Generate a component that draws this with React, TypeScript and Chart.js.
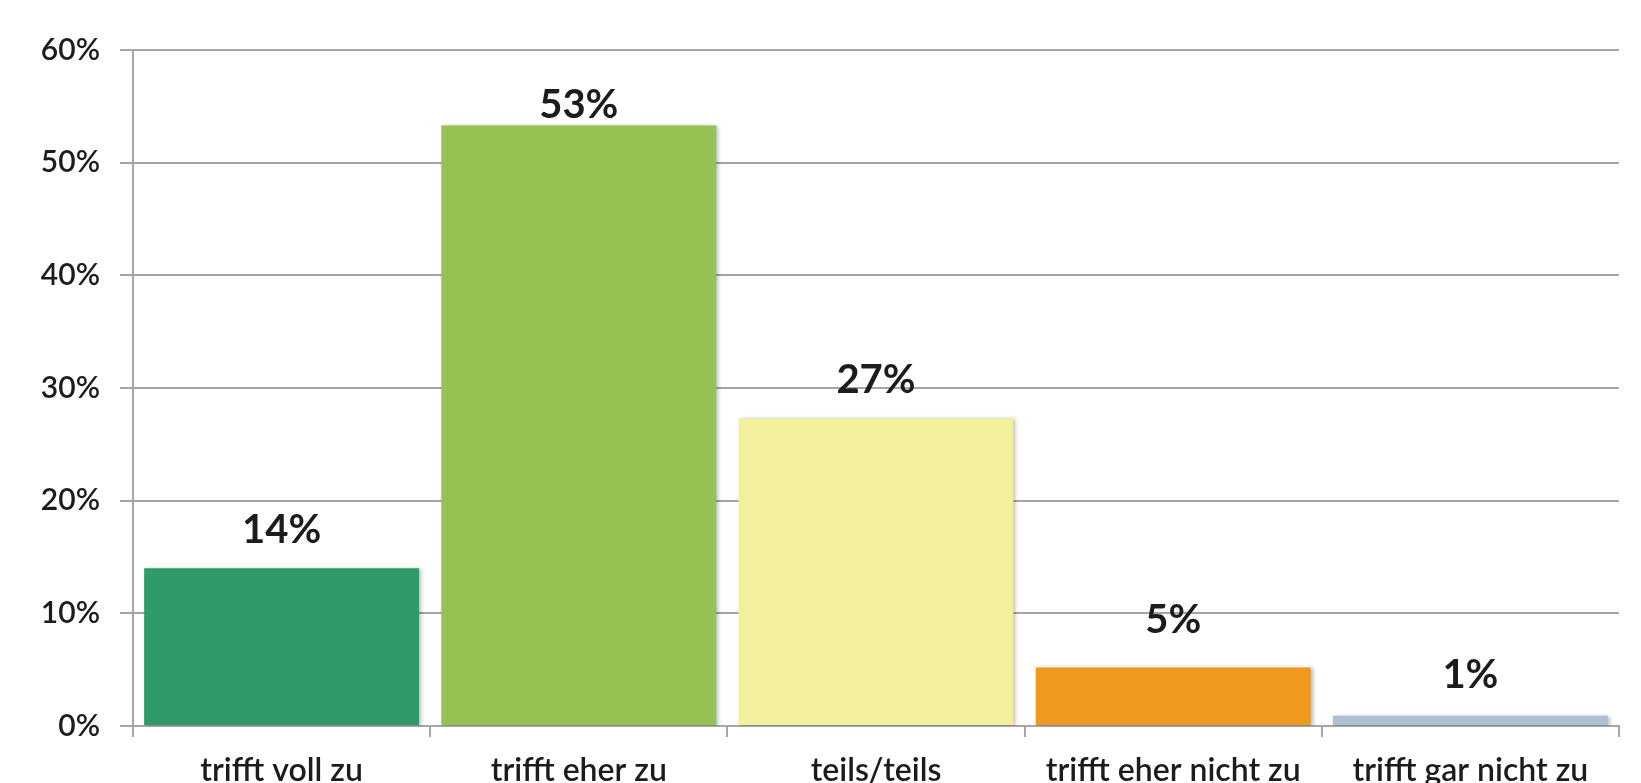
import React, { useEffect, useRef } from "react";
import { Chart, registerables } from "chart.js";

Chart.register(...registerables);

const categories = [
  "trifft voll zu",
  "trifft eher zu",
  "teils/teils",
  "trifft eher nicht zu",
  "trifft gar nicht zu",
];
const values = [14, 53.3, 27.3, 5.2, 0.9];
const valueLabels = ["14%", "53%", "27%", "5%", "1%"];
const barColors = ["#2E9B68", "#96C153", "#F4EF9C", "#F0991F", "#AEBFD3"];
const yTicks = [0, 10, 20, 30, 40, 50, 60];

const FONT = "Lato, 'Open Sans', sans-serif";
const labelGaps = [25, 7, 25, 34, 28];

const shadowPlugin = {
  id: "barShadow",
  beforeDatasetsDraw(chart: any) {
    const ctx = chart.ctx;
    ctx.save();
    ctx.shadowColor = "rgba(0,0,0,0.28)";
    ctx.shadowBlur = 4;
    ctx.shadowOffsetX = 2;
    ctx.shadowOffsetY = 1;
  },
  afterDatasetsDraw(chart: any) {
    chart.ctx.restore();
  },
};

const valueLabelPlugin = {
  id: "valueLabels",
  afterDatasetsDraw(chart: any) {
    const ctx = chart.ctx;
    const meta = chart.getDatasetMeta(0);
    ctx.save();
    ctx.font = `bold 40px ${FONT}`;
    ctx.fillStyle = "#1E1B1C";
    ctx.textAlign = "center";
    ctx.textBaseline = "alphabetic";
    meta.data.forEach((bar: any, i: number) => {
      ctx.fillText(valueLabels[i], bar.x, bar.y - labelGaps[i]);
    });
    ctx.restore();
  },
};

export default function App() {
  const ref = useRef<HTMLCanvasElement>(null);
  useEffect(() => {
    if (!ref.current) return;
    const chart = new Chart(ref.current, {
      type: "bar",
      data: {
        labels: categories,
        datasets: [
          {
            data: values,
            backgroundColor: barColors,
            borderWidth: 0,
            barPercentage: 0.925,
            categoryPercentage: 1,
          },
        ],
      },
      options: {
        responsive: false,
        animation: false,
        layout: { padding: { top: 50, right: 22, bottom: 0, left: 0 } },
        plugins: { legend: { display: false }, tooltip: { enabled: false } },
        scales: {
          y: {
            min: 0,
            max: 60,
            afterBuildTicks: (axis: any) => {
              axis.ticks = yTicks.map((v) => ({ value: v }));
            },
            afterFit: (axis: any) => {
              axis.width = 133;
            },
            ticks: {
              callback: (v: any) => v + "%",
              color: "#1E1B1C",
              font: { family: FONT, size: 30, weight: "600" },
              padding: 20,
            },
            grid: {
              color: "#A6A6A6",
              lineWidth: 2,
              tickLength: 13,
            },
            border: { display: true, color: "#A6A6A6", width: 2 },
          },
          x: {
            afterFit: (axis: any) => {
              axis.height = 57;
            },
            ticks: {
              color: "#1E1B1C",
              font: { family: FONT, size: 32, weight: "600" },
              padding: 14,
              maxRotation: 0,
              autoSkip: false,
            },
            grid: {
              offset: true,
              drawOnChartArea: false,
              drawTicks: true,
              tickLength: 11,
              color: "#A6A6A6",
              lineWidth: 2,
            },
            border: { display: true, color: "#A6A6A6", width: 2 },
          },
        },
      },
      plugins: [shadowPlugin, valueLabelPlugin],
    });
    return () => chart.destroy();
  }, []);
  return (
    <div style={{ position: "fixed", left: 0, top: 0, width: 1641, height: 783, background: "#fff" }}>
      <canvas ref={ref} width={1641} height={783} style={{ display: "block" }} />
    </div>
  );
}
